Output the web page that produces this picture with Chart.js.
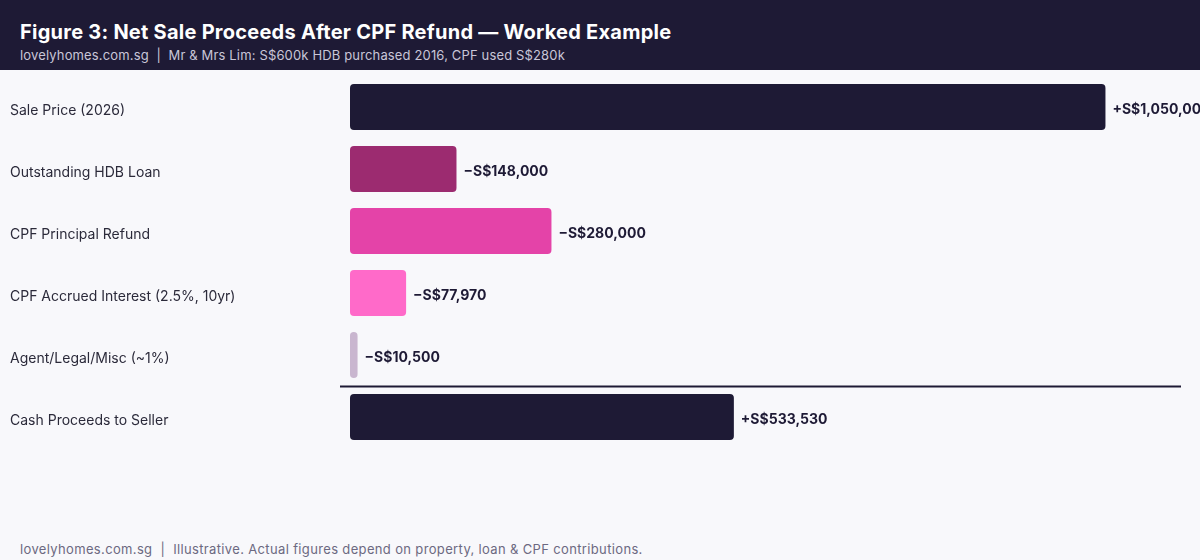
<!DOCTYPE html>
<html>
<head>
<meta charset="utf-8">
<script src="https://cdn.jsdelivr.net/npm/chart.js@4"></script>
<style>
  html, body { margin: 0; padding: 0; background: #f8f8fb; width: 1200px; height: 560px; overflow: hidden; font-family: Inter, "Noto Sans", sans-serif; }
  .header { position: absolute; left: 0; top: 0; width: 1200px; height: 70px; background: #1e1a35; }
  .header h1 { position: absolute; left: 20px; top: 20px; margin: 0; font-size: 20px; font-weight: 700; color: #ffffff; white-space: nowrap; letter-spacing: 0.25px; }
  .header p { position: absolute; left: 20px; top: 47px; margin: 0; font-size: 13px; color: #c9c6d8; white-space: nowrap; letter-spacing: 0.15px; }
  .wrap { position: absolute; left: 0; top: 70px; width: 1200px; height: 390px; }
  .footer { position: absolute; left: 20px; top: 541px; font-size: 13px; color: #6c6981; white-space: nowrap; letter-spacing: 0.35px; }
</style>
</head>
<body>
<div class="header">
  <h1>Figure 3: Net Sale Proceeds After CPF Refund — Worked Example</h1>
  <p>lovelyhomes.com.sg &nbsp;|&nbsp; Mr &amp; Mrs Lim: S$600k HDB purchased 2016, CPF used S$280k</p>
</div>
<div class="wrap"><canvas id="myChart"></canvas></div>
<div class="footer">lovelyhomes.com.sg &nbsp;|&nbsp; Illustrative. Actual figures depend on property, loan &amp; CPF contributions.</div>

<script>
// rows of the worked example, top to bottom
const categories = [
  'Sale Price (2026)',
  'Outstanding HDB Loan',
  'CPF Principal Refund',
  'CPF Accrued Interest (2.5%, 10yr)',
  'Agent/Legal/Misc (~1%)',
  'Cash Proceeds to Seller'
];
const amounts = [1050000, 148000, 280000, 77970, 10500, 533530];
const signs = ['+', '−', '−', '−', '−', '+'];
const barColors = ['#1e1a35', '#9c2b70', '#e443a8', '#ff6ac9', '#c9b6cf', '#1e1a35'];

// "+S$1,050,000" style labels at the end of each bar
const valueLabels = {
  id: 'valueLabels',
  afterDatasetsDraw(chart) {
    const ctx = chart.ctx;
    const meta = chart.getDatasetMeta(0);
    ctx.save();
    ctx.font = 'bold 14px Inter, "Noto Sans", sans-serif';
    ctx.fillStyle = '#1e1a35';
    ctx.textAlign = 'left';
    ctx.textBaseline = 'middle';
    meta.data.forEach(function(bar, i) {
      let txt = signs[i] + 'S$' + amounts[i].toLocaleString('en-US');
      ctx.fillText(txt, bar.x + 7, bar.y + 3);
    });
    ctx.restore();
  }
};

// rule between the deductions and the result
const totalLine = {
  id: 'totalLine',
  afterDatasetsDraw(chart) {
    const ctx = chart.ctx;
    const y = chart.scales.y;
    const lineY = Math.round((y.getPixelForValue(4) + y.getPixelForValue(5)) / 2) + 0.5;
    ctx.save();
    ctx.strokeStyle = '#1e1a35';
    ctx.lineWidth = 2;
    ctx.beginPath();
    ctx.moveTo(chart.chartArea.left - 10, lineY);
    ctx.lineTo(chart.chartArea.right, lineY);
    ctx.stroke();
    ctx.restore();
  }
};

let options = {
  type: 'bar',
  data: {
    labels: categories,
    datasets: [{
      data: amounts,
      backgroundColor: barColors,
      borderRadius: 4,
      borderSkipped: false,
      barPercentage: 0.74,
      categoryPercentage: 1.0
    }]
  },
  options: {
    indexAxis: 'y',
    responsive: true,
    maintainAspectRatio: false,
    animation: false,
    layout: { padding: { left: 10, right: 19, top: 6, bottom: 12 } },
    plugins: {
      legend: { display: false },
      tooltip: { enabled: false }
    },
    scales: {
      x: {
        display: false,
        min: 0,
        max: 1155000
      },
      y: {
        grid: { display: false },
        border: { display: false },
        afterFit: function(scale) {
          scale.width = 340;
          scale.paddingTop = 0;
          scale.paddingBottom = 0;
        },
        ticks: {
          crossAlign: 'far',
          labelOffset: 4,
          color: '#2b2a3a',
          font: { family: 'Inter, "Noto Sans", sans-serif', size: 14 }
        }
      }
    }
  },
  plugins: [valueLabels, totalLine]
};

const myChart = new Chart(document.getElementById('myChart'), options);
</script>
</body>
</html>
